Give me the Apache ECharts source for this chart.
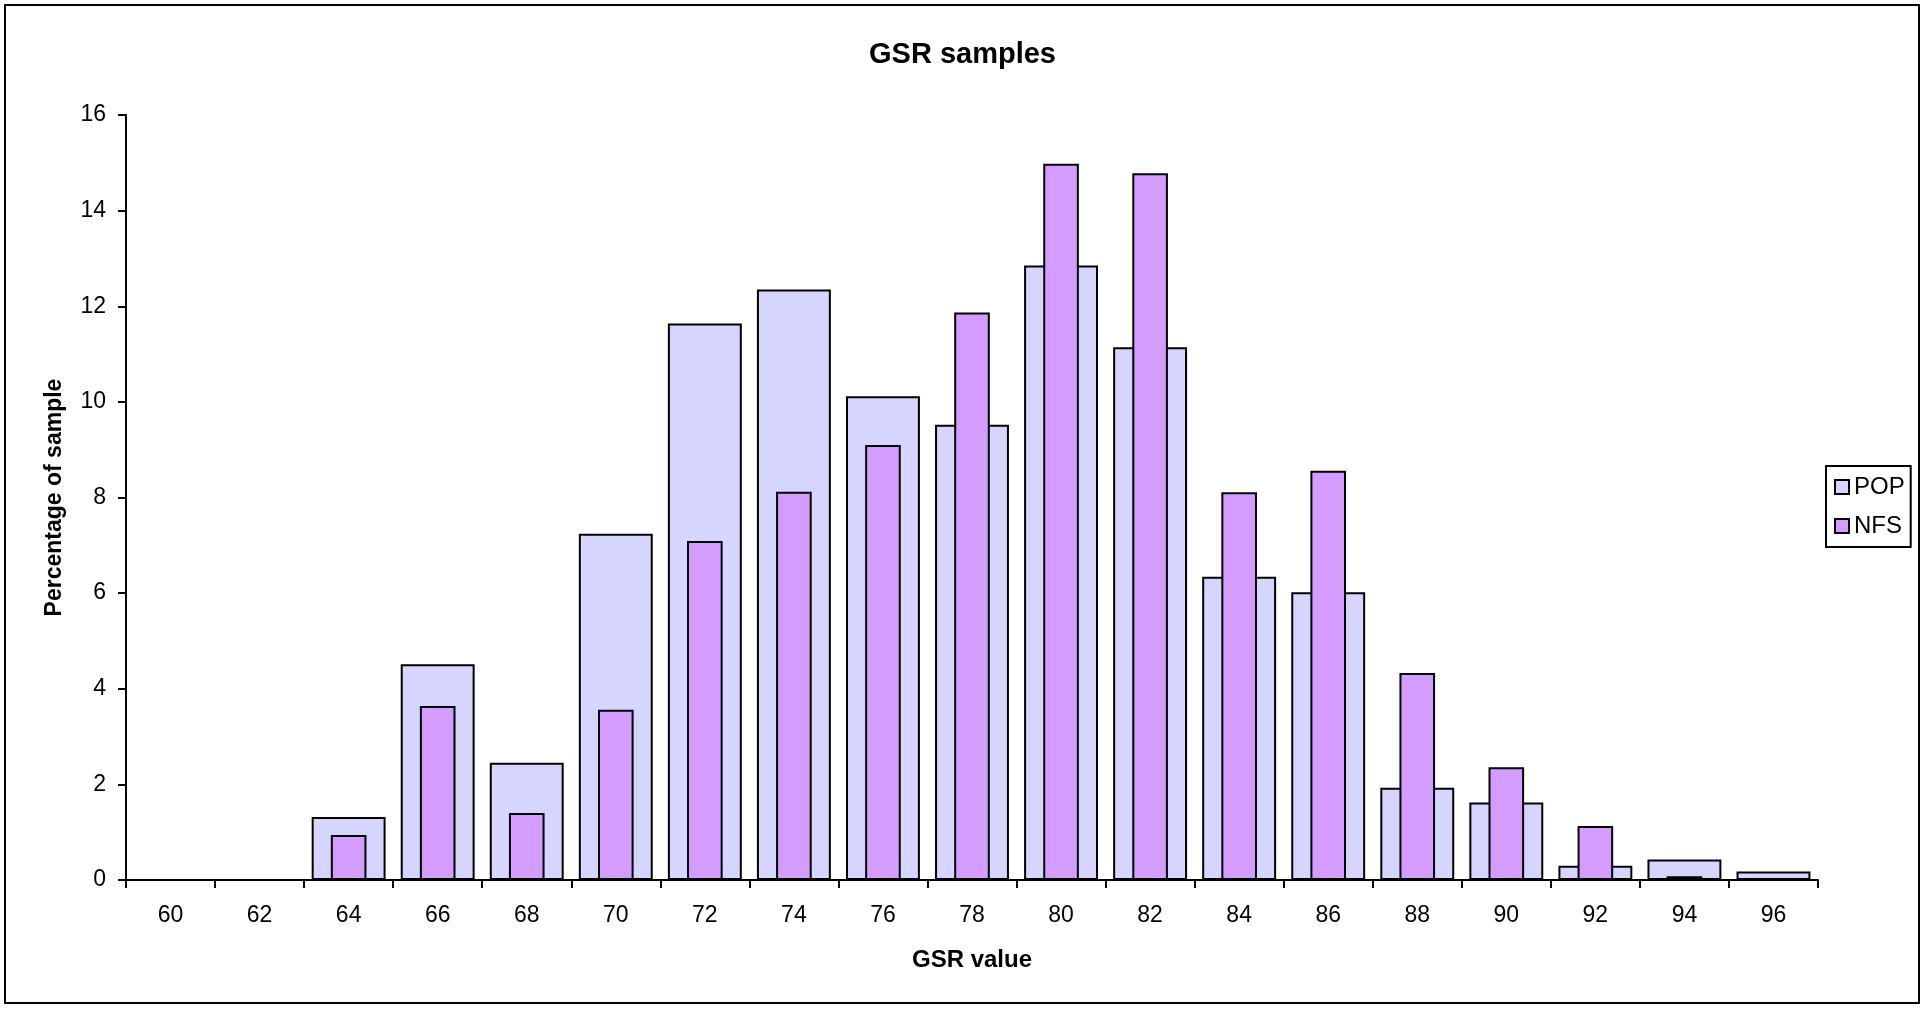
<!DOCTYPE html>
<html>
<head>
<meta charset="utf-8">
<script src="https://cdn.jsdelivr.net/npm/echarts@6/dist/echarts.min.js"></script>
<style>
html,body{margin:0;padding:0;background:#fff;}
#chart{width:1925px;height:1009px;}
</style>
</head>
<body>
<div id="chart"></div>
<script>
const categories = ['60','62','64','66','68','70','72','74','76','78','80','82','84','86','88','90','92','94','96'];
const popValues = [0, 0, 1.32, 4.51, 2.45, 7.24, 11.64, 12.35, 10.12, 9.52, 12.85, 11.14, 6.34, 6.02, 1.93, 1.62, 0.30, 0.43, 0.18];
const nfsValues = [0, 0, 0.94, 3.64, 1.40, 3.56, 7.09, 8.12, 9.10, 11.87, 14.98, 14.78, 8.11, 8.56, 4.33, 2.36, 1.13, 0.08, 0];
const yTicks = {min: 0, max: 16, interval: 2};

const FONT = 'Arial, "Liberation Sans", sans-serif';
const chart = echarts.init(document.getElementById('chart'));
chart.setOption({
  animation: false,
  backgroundColor: '#ffffff',
  textStyle: {fontFamily: FONT, color: '#000'},
  title: {
    text: 'GSR samples',
    left: 'center',
    top: 35,
    textStyle: {fontFamily: FONT, fontSize: 29, fontWeight: 'bold', color: '#000'}
  },
  graphic: [{
    type: 'rect',
    shape: {x: 5, y: 5, width: 1914, height: 998},
    style: {fill: 'none', stroke: '#000', lineWidth: 2},
    silent: true
  }],
  legend: {
    orient: 'vertical',
    left: 1826,
    top: 466,
    width: 85,
    padding: [9, 6, 9, 8],
    itemGap: 15,
    itemWidth: 14,
    itemHeight: 14,
    borderColor: '#000',
    borderWidth: 2,
    borderRadius: 0,
    icon: 'rect',
    textStyle: {fontFamily: FONT, fontSize: 24, color: '#000', padding: [0, 0, 0, 0]},
    data: ['POP', 'NFS']
  },
  grid: {left: 126, right: 107, top: 115, bottom: 129, containLabel: false},
  xAxis: [{
    type: 'category',
    data: categories,
    name: 'GSR value',
    nameLocation: 'middle',
    nameGap: 68,
    nameTextStyle: {fontFamily: FONT, fontSize: 24, fontWeight: 'bold', color: '#000'},
    axisLine: {lineStyle: {color: '#000', width: 2}},
    axisTick: {show: true, length: 8, lineStyle: {color: '#000', width: 2}},
    axisLabel: {fontFamily: FONT, fontSize: 23, color: '#000', margin: 24},
    splitLine: {show: false}
  }, {
    type: 'category',
    data: categories,
    show: false,
    position: 'bottom'
  }],
  yAxis: {
    type: 'value',
    min: yTicks.min,
    max: yTicks.max,
    interval: yTicks.interval,
    name: 'Percentage of sample',
    nameLocation: 'middle',
    nameGap: 60,
    nameRotate: 90,
    nameTextStyle: {fontFamily: FONT, fontSize: 23, fontWeight: 'bold', color: '#000'},
    axisLine: {show: true, lineStyle: {color: '#000', width: 2}},
    axisTick: {show: true, length: 8, lineStyle: {color: '#000', width: 2}},
    axisLabel: {fontFamily: FONT, fontSize: 23, color: '#000', margin: 20},
    splitLine: {show: false}
  },
  series: [{
    name: 'POP',
    type: 'bar',
    xAxisIndex: 0,
    data: popValues,
    barWidth: '83%',
    itemStyle: {color: '#D6D5FF', borderColor: '#000', borderWidth: 2},
    z: 2
  }, {
    name: 'NFS',
    type: 'bar',
    xAxisIndex: 1,
    data: nfsValues,
    barWidth: '40%',
    itemStyle: {color: '#D49CFF', borderColor: '#000', borderWidth: 2},
    z: 3
  }]
});
</script>
</body>
</html>
